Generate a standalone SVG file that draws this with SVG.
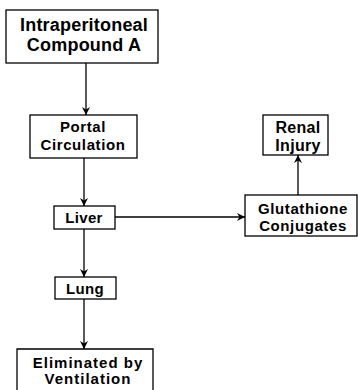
<svg xmlns="http://www.w3.org/2000/svg" width="358" height="390" viewBox="0 0 358 390">
<defs>
<marker id="ah" viewBox="0 0 10 10" refX="10" refY="5" markerWidth="8" markerHeight="9" orient="auto" markerUnits="userSpaceOnUse">
<path d="M0,0 L10,5 L0,10 L3,5 Z" fill="#000"/>
</marker>
</defs>
<style>
rect{fill:#fff;stroke:#000;stroke-width:1.3}
text{font-family:"Liberation Sans",Arial,sans-serif;font-weight:bold;fill:#000;text-anchor:middle}
.c line{stroke:#000;stroke-width:1.3;marker-end:url(#ah)}
</style>
<g class="c" id="connectors">
<line x1="86" y1="63" x2="86" y2="115"/>
<line x1="84" y1="158" x2="84" y2="206"/>
<line x1="115" y1="217" x2="245" y2="217"/>
<line x1="298" y1="195" x2="298" y2="155"/>
<line x1="84" y1="229" x2="84" y2="277"/>
<line x1="84" y1="299" x2="84" y2="349"/>
</g>
<g id="n1"><rect x="6" y="10" width="152" height="53"/>
<text x="84" y="31" font-size="18" letter-spacing="0.2">Intraperitoneal</text>
<text x="84" y="51" font-size="18" letter-spacing="0.2">Compound A</text></g>
<g id="n2"><rect x="30" y="115" width="107" height="43"/>
<text x="83" y="132" font-size="15" letter-spacing="0.6">Portal</text>
<text x="83" y="150" font-size="15" letter-spacing="0.6">Circulation</text></g>
<g id="n3"><rect x="54" y="206" width="61" height="23"/>
<text x="84" y="223" font-size="15" letter-spacing="0.3">Liver</text></g>
<g id="n4"><rect x="55" y="277" width="61" height="22"/>
<text x="85" y="294" font-size="15" letter-spacing="0.3">Lung</text></g>
<g id="n5"><path d="M17,392 V349 H153 V392" fill="#fff" stroke="#000" stroke-width="1.3"/>
<text x="88" y="368" font-size="15" letter-spacing="1">Eliminated by</text>
<text x="88" y="384" font-size="15" letter-spacing="1">Ventilation</text></g>
<g id="n6"><rect x="245" y="195" width="112" height="41"/>
<text x="303" y="214" font-size="15" letter-spacing="0.6">Glutathione</text>
<text x="303" y="231" font-size="15" letter-spacing="0.6">Conjugates</text></g>
<g id="n7"><rect x="263" y="115" width="65" height="40"/>
<text x="298" y="133" font-size="16" letter-spacing="0.3">Renal</text>
<text x="298" y="151" font-size="16" letter-spacing="0.3">Injury</text></g>
</svg>
